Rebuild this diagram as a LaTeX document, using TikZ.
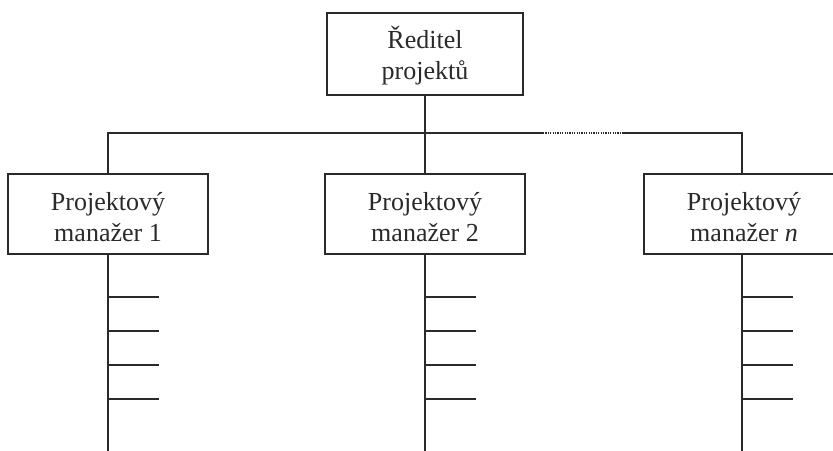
\documentclass[tikz,border=0pt]{standalone}
\usepackage{fontspec}
\setmainfont{Liberation Serif}
\definecolor{ink}{HTML}{2A2A2A}
% struts that fix the first baseline and the last depth of a two-line label
\newcommand{\upperstrut}{\rule{0pt}{26pt}}
\newcommand{\lowerstrut}{\rule[-2pt]{0pt}{2pt}}
\begin{document}
\begin{tikzpicture}[x=1pt,y=-1pt,
  box/.style={draw=ink, line width=1.8pt, fill=white, minimum width=200pt,
    minimum height=80pt, inner sep=0pt, align=center,
    font=\fontsize{26}{31}\selectfont, text=ink},
  link/.style={draw=ink, line width=1.5pt},
  gapline/.style={draw=ink, line width=1.3pt, dash pattern=on 1.2pt off 1.2pt},
  branch/.style={draw=ink, line width=1.4pt}]
\useasboundingbox (0,0) rectangle (833,450);
\clip (0,0) rectangle (833,450);

% boxes
\node[box, minimum width=196pt, minimum height=82pt] (dir) at (425,54)
  {\upperstrut Ředitel\\projektů\lowerstrut};
\node[box] (pm1) at (108,214) {\upperstrut Projektový\\manažer 1\lowerstrut};
\node[box] (pm2) at (425,214) {\upperstrut Projektový\\manažer 2\lowerstrut};
\node[box] (pmn) at (744,214) {\upperstrut Projektový\\manažer \textit{n}\lowerstrut};

% horizontal bus with the elided stretch
\coordinate (bus) at (0,133);
\coordinate (gapL) at (543,133);
\coordinate (gapR) at (622,133);
\coordinate (b1) at (pm1.north |- bus);
\coordinate (b2) at (pm2.north |- bus);
\coordinate (bn) at (742,133);
\draw[link] (dir.south) -- (dir.south |- bus);
\draw[link] (pm1.north) -- (b1) -- (gapL);
\draw[gapline] (gapL) -- (gapR);
\draw[link] (gapR) -- (bn) -- (bn |- pmn.north);
\draw[link] (pm2.north) -- (b2);

% stems with their side branches
\foreach \m/\sx in {pm1/108, pm2/425, pmn/742}{
  \draw[link] (\sx,0 |- \m.south) -- (\sx,452);
  \foreach \ty in {297,331,365,399}{
    \coordinate (t-\m-\ty) at (\sx+51,\ty);
    \draw[branch] (\sx,\ty) -- (t-\m-\ty);
  }
}
\end{tikzpicture}
\end{document}
